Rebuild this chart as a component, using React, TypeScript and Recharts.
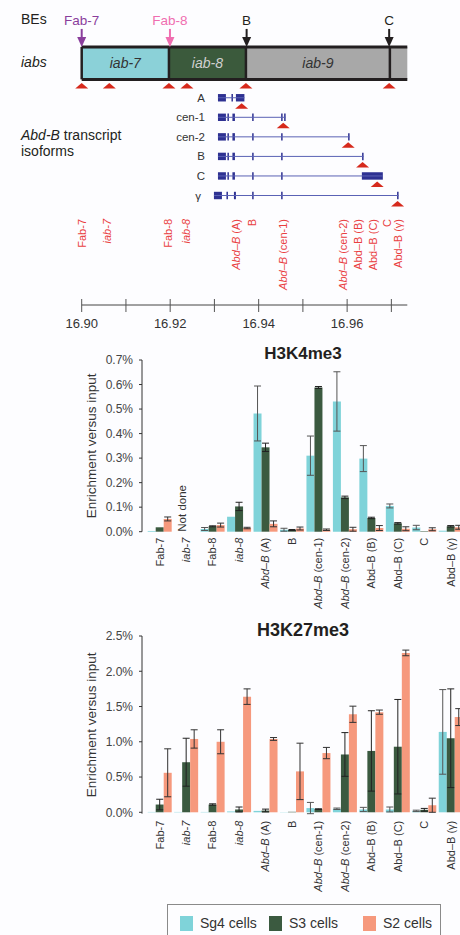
import React from "react";
import {
  ComposedChart,
  BarChart,
  Bar,
  XAxis,
  YAxis,
  Scatter,
  ReferenceArea,
  ReferenceLine,
  ErrorBar,
} from "recharts";

const FONT = '"Liberation Sans", Arial, Helvetica, sans-serif';
const RED = "#d6291c";
const LABEL_RED = "#e9403f";
const ISO_BLUE = "#2e3192";

// ---------- genomic map (positions in Mb) ----------
const BE_NAMES = ["Fab-7", "Fab-8", "B", "C"];
const BE_POS = [16.9, 16.91995, 16.93728, 16.9695];
const BE_COLORS = ["#8a3e9c", "#f06eb0", "#231f20", "#231f20"];

const IAB_NAMES = ["iab-7", "iab-8", "iab-9", ""];
const IAB_EDGES = [16.9, 16.91972, 16.93712, 16.96966, 16.9736];
const IAB_FILLS = ["#8bd1d8", "#3b5a3c", "#a8a8a8", "#a8a8a8"];
const IAB_TEXT = ["#333333", "#d0d0d0", "#333333", "#333333"];

const SITE_POS = [16.9, 16.90624, 16.91972, 16.92379, 16.93712, 16.9695];

const ISOFORMS = ["A", "cen-1", "cen-2", "B", "C", "γ"];
const ISO_EXONS: number[][][] = [
  [[16.9308, 16.9326], [16.93385, 16.93419], [16.93486, 16.93678]],
  [[16.9308, 16.9326], [16.93294, 16.93328], [16.93407, 16.93464], [16.93853, 16.93887], [16.94508, 16.94542], [16.94576, 16.9461]],
  [[16.9308, 16.9326], [16.93294, 16.93328], [16.93407, 16.93464], [16.93853, 16.93887], [16.94508, 16.94542], [16.96022, 16.96056]],
  [[16.9308, 16.9326], [16.93294, 16.93328], [16.93407, 16.93464], [16.93853, 16.93887], [16.94508, 16.94542], [16.96338, 16.96372]],
  [[16.9308, 16.9326], [16.93294, 16.93328], [16.93407, 16.93464], [16.93853, 16.93887], [16.94508, 16.94542], [16.96333, 16.96807]],
  [[16.92989, 16.9317], [16.93272, 16.93306], [16.93441, 16.93486], [16.93853, 16.93887], [16.94508, 16.94542], [16.97129, 16.97163]],
];
const ISO_SITES = [16.93615, 16.94555, 16.96024, 16.96349, 16.96679, 16.9714];

const MAP_TICKS = [16.9, 16.91, 16.92, 16.93, 16.94, 16.95, 16.96, 16.97];

// ---------- amplicons ----------
const CATEGORIES = [
  "Fab-7", "iab-7", "Fab-8", "iab-8", "Abd–B (A)", "B",
  "Abd–B (cen-1)", "Abd–B (cen-2)", "Abd–B (B)", "Abd–B (C)", "C", "Abd–B (γ)",
];
const ITALIC = [false, true, false, true, true, false, true, true, false, false, false, false];
const LABEL_POS = [
  16.9, 16.90579, 16.9195, 16.92357, 16.93486, 16.93855,
  16.94555, 16.95911, 16.9625, 16.96582, 16.96898, 16.97153,
];

// ---------- ChIP enrichment (% of input) ----------
const SERIES = ["Sg4 cells", "S3 cells", "S2 cells"];
const SERIES_COLORS = ["#7fd3d9", "#3b5a40", "#f6997d"];

const K4_SG4 = [0.003, null, 0.011, 0.061, 0.482, 0.008, 0.31, 0.531, 0.298, 0.105, 0.017, 0.004];
const K4_SG4_ERR = [null, null, 0.006, null, 0.112, 0.006, 0.08, 0.121, 0.053, 0.008, 0.009, null];
const K4_S3 = [0.018, null, 0.022, 0.103, 0.344, 0.007, 0.588, 0.14, 0.056, 0.034, 0.002, 0.022];
const K4_S3_ERR = [null, null, 0.002, 0.017, 0.017, 0.002, 0.004, 0.005, 0.003, 0.003, null, 0.003];
const K4_S2 = [0.052, null, 0.027, 0.015, 0.032, 0.013, 0.008, 0.01, 0.015, 0.012, 0.01, 0.018];
const K4_S2_ERR = [0.008, null, 0.008, 0.003, 0.012, 0.006, 0.003, 0.008, 0.01, 0.008, 0.006, 0.008];

const K27_SG4 = [0.005, 0.005, 0.005, 0.012, 0.02, 0.003, 0.06, 0.05, 0.04, 0.04, 0.02, 1.14];
const K27_SG4_ERR = [null, null, null, null, null, null, 0.08, 0.01, 0.03, 0.035, 0.01, 0.6];
const K27_S3 = [0.11, 0.71, 0.11, 0.04, 0.025, 0.007, 0.045, 0.82, 0.87, 0.93, 0.035, 1.05];
const K27_S3_ERR = [0.075, 0.34, 0.01, 0.035, 0.02, null, 0.005, 0.31, 0.57, 0.67, 0.02, 0.7];
const K27_S2 = [0.56, 1.04, 1.0, 1.64, 1.04, 0.58, 0.84, 1.39, 1.42, 2.26, 0.1, 1.35];
const K27_S2_ERR = [0.34, 0.13, 0.17, 0.11, 0.02, 0.4, 0.08, 0.115, 0.03, 0.04, 0.1, 0.12];

const K4_TICKS = [0, 0.1, 0.2, 0.3, 0.4, 0.5, 0.6, 0.7];
const K27_TICKS = [0, 0.5, 1, 1.5, 2, 2.5];

type Val = number | null;
const buildRows = (a: Val[], ae: Val[], b: Val[], be: Val[], c: Val[], ce: Val[]) =>
  CATEGORIES.map((name, i) => ({
    name,
    sg4: a[i], sg4Err: ae[i],
    s3: b[i], s3Err: be[i],
    s2: c[i], s2Err: ce[i],
  }));

const renderName = (name: string, italic: boolean) => {
  if (!italic) return name;
  const i = name.indexOf(" ");
  if (i < 0) return <tspan fontStyle="italic">{name}</tspan>;
  return (
    <>
      <tspan fontStyle="italic">{name.slice(0, i)}</tspan>
      <tspan>{name.slice(i)}</tspan>
    </>
  );
};

// rows of the map, in track units (top to bottom)
const BOX_TOP = 2.4;
const BOX_BOTTOM = 4.06;
const ISO_ROW0 = 5;
const LABEL_ROW = 11.2;

const BeArrow = (p: any) => {
  const { cx, cy, payload } = p;
  const c = payload.color;
  return (
    <g>
      <text x={cx} y={cy - 22} textAnchor="middle" fontSize={13.5} fill={c}>
        {payload.name}
      </text>
      <line x1={cx} y1={cy - 18} x2={cx} y2={cy - 8} stroke={c} strokeWidth={2} />
      <path d={`M${cx - 4.5},${cy - 10} L${cx + 4.5},${cy - 10} L${cx},${cy} Z`} fill={c} />
    </g>
  );
};

const Site = (p: any) => {
  const { cx, cy } = p;
  return <path d={`M${cx},${cy} L${cx + 6.5},${cy + 5.5} L${cx - 6.5},${cy + 5.5} Z`} fill={RED} />;
};

const IsoName = (p: any) => (
  <text x={p.cx - 13} y={p.cy} dy="0.35em" textAnchor="end" fontSize={11.5} fill="#333">
    {p.payload.name}
  </text>
);

const AmpliconLabel = (p: any) => {
  const { cx, cy, payload } = p;
  return (
    <text
      x={cx}
      y={cy}
      dy="0.35em"
      textAnchor="end"
      transform={`rotate(-90 ${cx} ${cy})`}
      fontSize={11}
      fill={LABEL_RED}
    >
      {renderName(payload.name, payload.italic)}
    </text>
  );
};

const MapTick = (p: any) => {
  const { x, y, payload } = p;
  const major = Math.round(payload.value * 1000) % 20 === 0;
  return (
    <g>
      <line x1={x} y1={y - 6} x2={x} y2={y + 7} stroke="#555" strokeWidth={1} />
      {major && (
        <text x={x} y={y + 23} textAnchor="middle" fontSize={13} fill="#333">
          {payload.value.toFixed(2)}
        </text>
      )}
    </g>
  );
};

function GenomeMap() {
  const beData = BE_NAMES.map((name, i) => ({ x: BE_POS[i], y: BOX_TOP, name, color: BE_COLORS[i] }));
  const siteData = [
    ...SITE_POS.map((x) => ({ x, y: BOX_BOTTOM + 0.19 })),
    ...ISO_SITES.map((x, i) => ({ x, y: ISO_ROW0 + i + 0.28 })),
  ];
  const nameData = ISOFORMS.map((name, i) => ({ x: ISO_EXONS[i][0][0], y: ISO_ROW0 + i, name }));
  const labelData = CATEGORIES.map((name, i) => ({ x: LABEL_POS[i], y: LABEL_ROW, name, italic: ITALIC[i] }));
  const last = IAB_EDGES[IAB_EDGES.length - 1];

  return (
    <ComposedChart width={460} height={340} margin={{ top: 0, right: 52.7, bottom: 0, left: 81.7 }}>
      <XAxis
        type="number"
        dataKey="x"
        domain={[IAB_EDGES[0], last]}
        ticks={MAP_TICKS}
        interval={0}
        height={35}
        axisLine={{ stroke: "#444" }}
        tickLine={false}
        tickSize={0}
        tickMargin={0}
        tick={(p: any) => <MapTick {...p} />}
      />
      <YAxis type="number" dataKey="y" domain={[0, 15.6]} reversed hide />

      {IAB_NAMES.map((name, i) => (
        <ReferenceArea
          key={`iab-${i}`}
          x1={IAB_EDGES[i]}
          x2={IAB_EDGES[i + 1]}
          y1={BOX_TOP}
          y2={BOX_BOTTOM}
          fill={IAB_FILLS[i]}
          fillOpacity={1}
          stroke="none"
          label={
            name
              ? { value: name, position: "center", fill: IAB_TEXT[i], fontSize: 14, fontStyle: "italic" }
              : undefined
          }
        />
      ))}
      <ReferenceLine segment={[{ x: IAB_EDGES[0], y: BOX_TOP }, { x: last, y: BOX_TOP }]} stroke="#231f20" strokeWidth={3} />
      <ReferenceLine segment={[{ x: IAB_EDGES[0], y: BOX_BOTTOM }, { x: last, y: BOX_BOTTOM }]} stroke="#231f20" strokeWidth={3} />
      {IAB_EDGES.slice(0, -1).map((x, i) => (
        <ReferenceLine key={`edge-${i}`} segment={[{ x, y: BOX_TOP }, { x, y: BOX_BOTTOM }]} stroke="#231f20" strokeWidth={2.5} />
      ))}

      {ISO_EXONS.map((exons, i) => (
        <ReferenceLine
          key={`intron-${i}`}
          segment={[
            { x: exons[0][0], y: ISO_ROW0 + i },
            { x: exons[exons.length - 1][1], y: ISO_ROW0 + i },
          ]}
          stroke="#5a62b5"
          strokeWidth={1}
        />
      ))}
      {ISO_EXONS.flatMap((exons, i) =>
        exons.map((e, j) => (
          <ReferenceArea
            key={`exon-${i}-${j}`}
            x1={e[0]}
            x2={e[1]}
            y1={ISO_ROW0 + i - 0.19}
            y2={ISO_ROW0 + i + 0.19}
            fill={ISO_BLUE}
            fillOpacity={1}
            stroke="none"
          />
        ))
      )}

      <Scatter data={beData} isAnimationActive={false} shape={(p: any) => <BeArrow {...p} />} />
      <Scatter data={siteData} isAnimationActive={false} shape={(p: any) => <Site {...p} />} />
      <Scatter data={nameData} isAnimationActive={false} shape={(p: any) => <IsoName {...p} />} />
      <Scatter data={labelData} isAnimationActive={false} shape={(p: any) => <AmpliconLabel {...p} />} />
    </ComposedChart>
  );
}

const CategoryTick = (p: any) => {
  const { x, y, payload, offset } = p;
  const idx = CATEGORIES.indexOf(payload.value);
  const ty = y + offset;
  return (
    <text
      x={x}
      y={ty}
      dy="0.35em"
      textAnchor="end"
      transform={`rotate(-90 ${x} ${ty})`}
      fontSize={11}
      fill="#333"
    >
      {renderName(payload.value, ITALIC[idx])}
    </text>
  );
};

const NotDone = (p: any) => {
  const vb = p.viewBox;
  if (!vb) return null;
  const x = vb.x - 4;
  const y = vb.y + vb.height;
  return (
    <text x={x} y={y} dy="0.35em" textAnchor="start" transform={`rotate(-90 ${x} ${y})`} fontSize={11.5} fill="#333">
      Not done
    </text>
  );
};

function EnrichmentChart(props: {
  top: number;
  titleTop: number;
  title: string;
  titleSize: number;
  rows: any[];
  max: number;
  ticks: number[];
  xHeight: number;
  labelOffset: number;
  notDone?: string;
}) {
  const { top, titleTop, title, titleSize, rows, max, ticks, xHeight, labelOffset, notDone } = props;
  const keys = ["sg4", "s3", "s2"];
  const errColors = ["#555", "#222", "#333"];
  return (
    <>
      <div
        style={{
          position: "absolute",
          left: 203,
          top: titleTop,
          width: 200,
          textAlign: "center",
          fontWeight: "bold",
          fontSize: titleSize,
          lineHeight: `${titleSize}px`,
          color: "#231f20",
        }}
      >
        {title}
      </div>
      <div style={{ position: "absolute", left: 0, top }}>
        <BarChart
          width={464}
          height={290}
          data={rows}
          margin={{ top: 20, right: 0, bottom: 0, left: 0 }}
          barCategoryGap={1.2}
          barGap={0}
        >
          <XAxis
            dataKey="name"
            type="category"
            interval={0}
            height={xHeight}
            axisLine={false}
            tickLine={false}
            tickSize={0}
            tickMargin={0}
            padding={{ left: 4.5, right: 0 }}
            tick={(p: any) => <CategoryTick {...p} offset={labelOffset} />}
          />
          <YAxis
            type="number"
            width={142}
            domain={[0, max]}
            ticks={ticks}
            interval={0}
            axisLine={{ stroke: "#333" }}
            tickLine={{ stroke: "#333" }}
            tickSize={3}
            tickMargin={6}
            tick={{ fontSize: 12, fill: "#444" }}
            tickFormatter={(v: number) => `${v.toFixed(1)}%`}
            label={{
              value: "Enrichment versus input",
              angle: -90,
              position: "insideLeft",
              offset: 91,
              fontSize: 13.5,
              fill: "#333",
              style: { textAnchor: "middle" },
            }}
          />
          {notDone && <ReferenceLine x={notDone} stroke="transparent" label={(p: any) => <NotDone {...p} />} />}
          {keys.map((k, i) => (
            <Bar key={k} dataKey={k} name={SERIES[i]} fill={SERIES_COLORS[i]} isAnimationActive={false}>
              <ErrorBar dataKey={`${k}Err`} width={3.5} stroke={errColors[i]} strokeWidth={1} />
            </Bar>
          ))}
        </BarChart>
      </div>
    </>
  );
}

function LegendBox() {
  const offsets = [12, 101, 195];
  return (
    <div
      style={{
        position: "absolute",
        left: 167,
        top: 904,
        width: 274,
        height: 40,
        border: "1px solid #8a8a8a",
        boxSizing: "border-box",
      }}
    >
      {SERIES.map((s, i) => (
        <div key={s} style={{ position: "absolute", left: offsets[i], top: 10 }}>
          <div style={{ position: "absolute", left: 0, top: 1, width: 13, height: 15, background: SERIES_COLORS[i] }} />
          <div style={{ position: "absolute", left: 20, top: 0, fontSize: 14, lineHeight: "17px", whiteSpace: "nowrap", color: "#333" }}>
            {s}
          </div>
        </div>
      ))}
    </div>
  );
}

export default function App() {
  const k4 = buildRows(K4_SG4, K4_SG4_ERR, K4_S3, K4_S3_ERR, K4_S2, K4_S2_ERR);
  const k27 = buildRows(K27_SG4, K27_SG4_ERR, K27_S3, K27_S3_ERR, K27_S2, K27_S2_ERR);
  return (
    <div
      style={{
        position: "absolute",
        left: 0,
        top: 0,
        width: 460,
        height: 935,
        overflow: "hidden",
        background: "#fdfdff",
        fontFamily: FONT,
        color: "#231f20",
      }}
    >
      <div style={{ position: "absolute", left: 21, top: 11, fontSize: 14, lineHeight: "16px" }}>BEs</div>
      <div style={{ position: "absolute", left: 21, top: 54, fontSize: 14, lineHeight: "16px", fontStyle: "italic" }}>iabs</div>
      <div style={{ position: "absolute", left: 21, top: 127, fontSize: 14, lineHeight: "16px" }}>
        <i>Abd-B</i> transcript
        <br />
        isoforms
      </div>
      <div style={{ position: "absolute", left: 0, top: 0 }}>
        <GenomeMap />
      </div>
      <EnrichmentChart
        top={340}
        titleTop={344.5}
        title="H3K4me3"
        titleSize={17}
        rows={k4}
        max={0.7}
        ticks={K4_TICKS}
        xHeight={98.3}
        labelOffset={6}
        notDone="iab-7"
      />
      <EnrichmentChart
        top={616}
        titleTop={621}
        title="H3K27me3"
        titleSize={18}
        rows={k27}
        max={2.5}
        ticks={K27_TICKS}
        xHeight={92.3}
        labelOffset={7}
      />
      <LegendBox />
    </div>
  );
}
